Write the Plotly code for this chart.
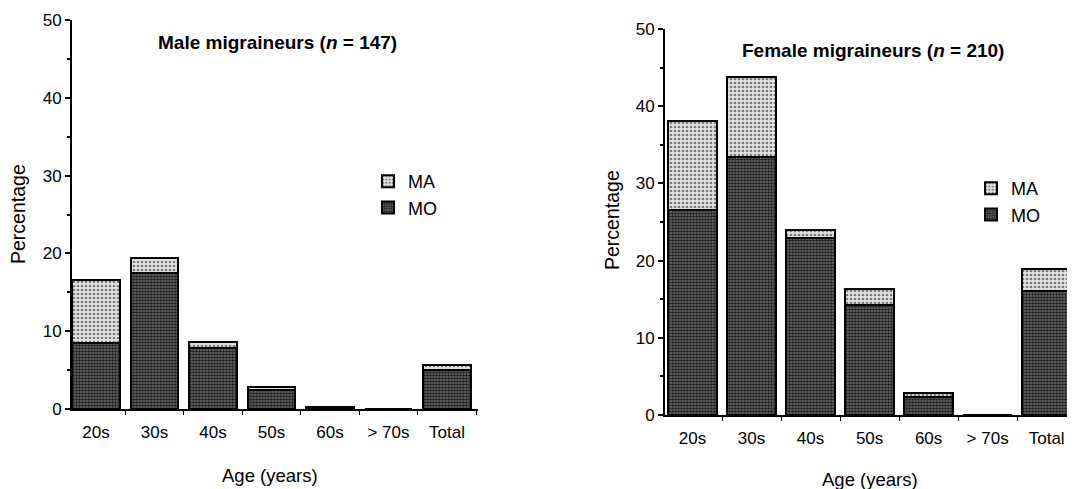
import plotly.graph_objects as go

categories = ["20s", "30s", "40s", "50s", "60s", "> 70s", "Total"]

male_mo = [8.5, 17.5, 7.8, 2.4, 0.3, 0.0, 5.0]
male_ma = [8.1, 1.9, 0.8, 0.4, 0.0, 0.0, 0.7]

female_mo = [26.6, 33.4, 22.9, 14.2, 2.3, 0.0, 16.1]
female_ma = [11.5, 10.4, 1.1, 2.1, 0.5, 0.0, 2.8]

y_ticks = [0, 10, 20, 30, 40, 50]

# the page body has an 8px margin; the figure fills the rest of the window
OFF = 8
W, H = 1075 - OFF, 489 - OFF
FONT = "Liberation Sans, Arial, sans-serif"

def px(x):
    return (x - OFF) / W

def py(y):
    return (H - (y - OFF)) / H

ma_marker = dict(color="#d0d0d0", line=dict(color="black", width=2),
                 pattern=dict(shape=".", fgcolor="#7a7a7a", bgcolor="#e2e2e2",
                              size=4, solidity=0.35, fillmode="replace"))
mo_marker = dict(color="#4a4a4a", line=dict(color="black", width=2),
                 pattern=dict(shape=".", fgcolor="#1e1e1e", bgcolor="#6e6e6e",
                              size=3, solidity=0.55, fillmode="replace"))

fig = go.Figure()

fig.add_trace(go.Bar(x=categories, y=male_mo, name="MO", marker=mo_marker,
                     xaxis="x", yaxis="y", legend="legend"))
fig.add_trace(go.Bar(x=categories, y=male_ma, name="MA", marker=ma_marker,
                     xaxis="x", yaxis="y", legend="legend"))
fig.add_trace(go.Bar(x=categories, y=female_mo, name="MO", marker=mo_marker,
                     xaxis="x2", yaxis="y2", legend="legend2"))
fig.add_trace(go.Bar(x=categories, y=female_ma, name="MA", marker=ma_marker,
                     xaxis="x2", yaxis="y2", legend="legend2"))

tickfont = dict(family=FONT, size=17, color="black")

xcommon = dict(type="category", showline=True, linecolor="black", linewidth=2,
               ticks="outside", tickson="boundaries", ticklen=4, tickcolor="black",
               tickfont=tickfont, showgrid=False, zeroline=False, automargin=False,
               ticklabelstandoff=7, fixedrange=True)
ycommon = dict(range=[0, 50], tickvals=y_ticks, showline=True, linecolor="black",
               linewidth=2, ticks="outside", ticklen=5, tickcolor="black",
               tickwidth=1.5, tickfont=tickfont, showgrid=False, zeroline=False,
               automargin=False,
               minor=dict(dtick=5, ticks="outside", ticklen=3, tickcolor="black"),
               fixedrange=True)

def ann(text, x, y, size, angle=0):
    return dict(text=text, x=px(x), y=py(y), xref="paper", yref="paper",
                xanchor="center", yanchor="middle", showarrow=False,
                textangle=angle, font=dict(family=FONT, size=size, color="black"))

fig.update_layout(
    template="none",
    width=W, height=H,
    margin=dict(l=0, r=0, t=0, b=0, autoexpand=False),
    paper_bgcolor="white", plot_bgcolor="white",
    barmode="stack", bargap=0.18,
    font=dict(family=FONT, color="black"),
    xaxis=dict(xcommon, domain=[px(72), px(478)], range=[-0.41, 6.53], anchor="y"),
    yaxis=dict(ycommon, domain=[py(409), py(20)], anchor="x"),
    xaxis2=dict(xcommon, domain=[px(665), 1.0], range=[-0.466, 6.48], anchor="y2"),
    yaxis2=dict(ycommon, domain=[py(415), py(29)], anchor="x2"),
    legend=dict(x=px(368), y=py(163), xanchor="left", yanchor="top",
                traceorder="reversed", font=dict(family=FONT, size=18),
                bgcolor="rgba(0,0,0,0)", itemclick=False, tracegroupgap=0),
    legend2=dict(x=px(971), y=py(170), xanchor="left", yanchor="top",
                 traceorder="reversed", font=dict(family=FONT, size=18),
                 bgcolor="rgba(0,0,0,0)", itemclick=False, tracegroupgap=0),
    annotations=[
        ann("<b>Male migraineurs (<i>n</i> = 147)</b>", 277, 43, 19),
        ann("<b>Female migraineurs (<i>n</i> = 210)</b>", 873, 50, 19),
        ann("Percentage", 18, 214, 19.5, -90),
        ann("Percentage", 612, 220, 19.5, -90),
        ann("Age (years)", 270, 475, 18.5),
        ann("Age (years)", 870, 479, 18.5),
    ],
)

fig.write_html("out.html")
